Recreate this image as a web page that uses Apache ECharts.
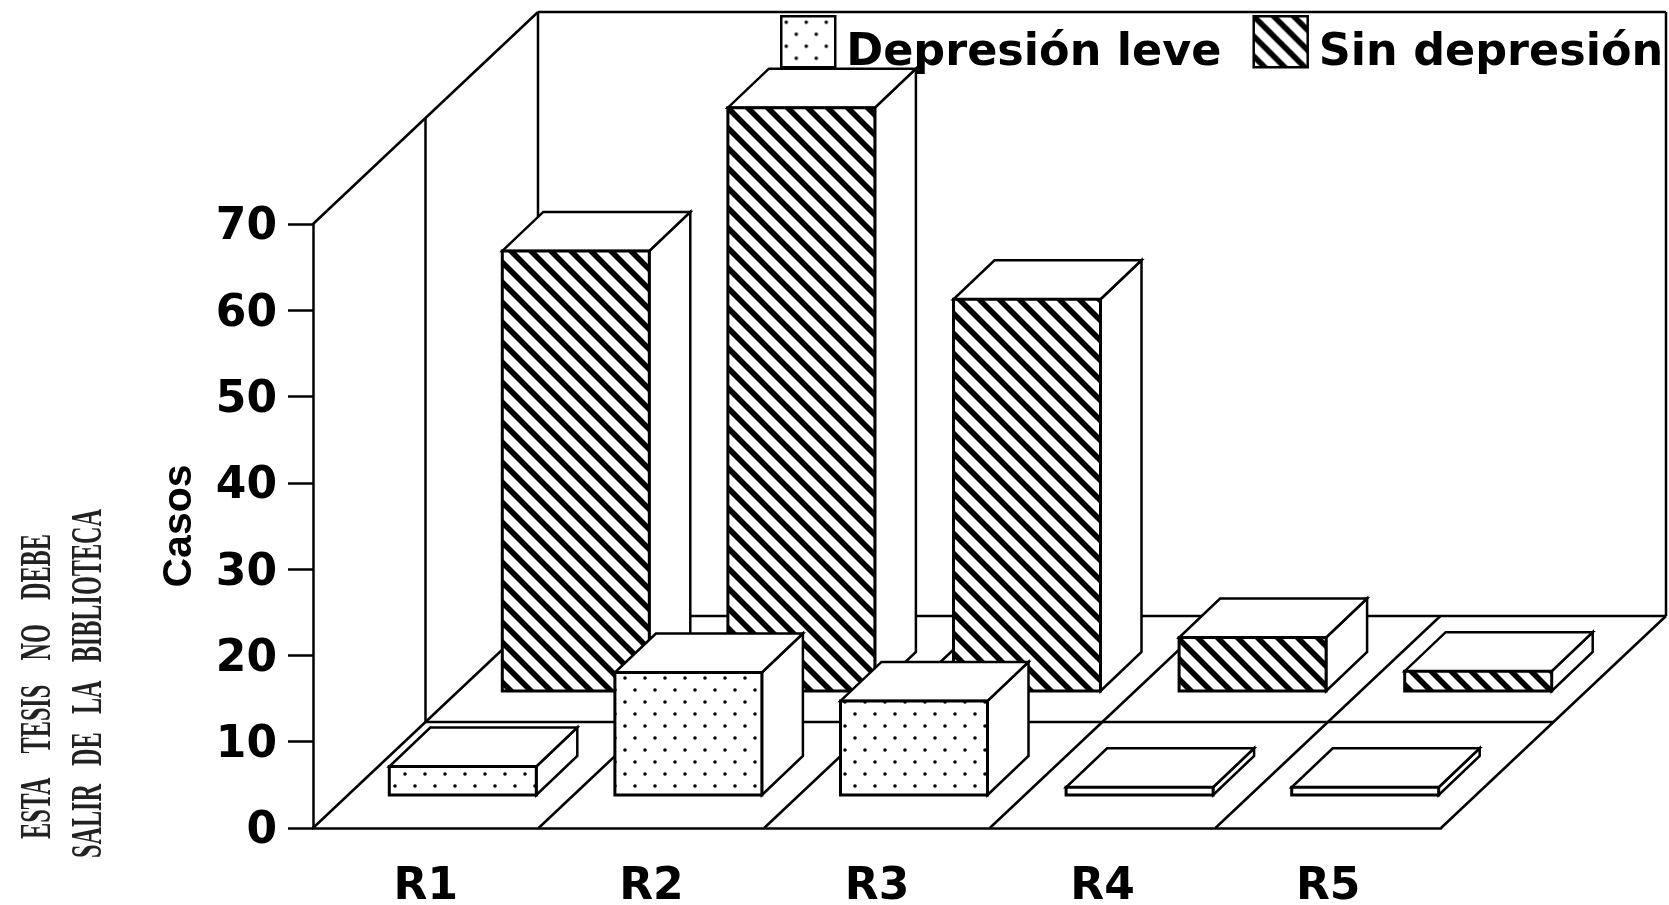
<!DOCTYPE html>
<html>
<head>
<meta charset="utf-8">
<title>Casos por reactivo</title>
<script src="https://cdn.jsdelivr.net/npm/echarts@6/dist/echarts.min.js"></script>
<style>
html, body { margin: 0; padding: 0; background: #fff; }
#bar_chart { width: 1669px; height: 905px; }
</style>
</head>
<body>
<div id="bar_chart"></div>
<script>
const categories = ['R1', 'R2', 'R3', 'R4', 'R5'];
const leveValues = [3.3, 14.2, 10.9, 0.9, 0.9];
const sinValues = [51, 67.6, 45.4, 6.2, 2.3];

// perspective of the fake 3d box, in pixels
const wallDx = 225;
const wallDy = 212;
const barWidth = 147;
const barDepth = [41, 39];
const frontRow = [37, 33];
const backRow = [150, 137];

function stripeTile() {
    const c = document.createElement('canvas');
    c.width = 20;
    c.height = 20;
    const ctx = c.getContext('2d');
    ctx.fillStyle = '#fff';
    ctx.fillRect(0, 0, 20, 20);
    ctx.strokeStyle = '#000';
    ctx.lineWidth = 5.6;
    [-20, 0, 20].forEach(function (o) {
        ctx.beginPath();
        ctx.moveTo(o - 2, -2);
        ctx.lineTo(o + 22, 22);
        ctx.stroke();
    });
    return { image: c, repeat: 'repeat' };
}

function dotTile() {
    const c = document.createElement('canvas');
    c.width = 20;
    c.height = 24;
    const ctx = c.getContext('2d');
    ctx.fillStyle = '#fff';
    ctx.fillRect(0, 0, 20, 24);
    ctx.fillStyle = '#000';
    [[5, 6], [15, 18]].forEach(function (p) {
        ctx.beginPath();
        ctx.arc(p[0], p[1], 1.8, 0, Math.PI * 2);
        ctx.fill();
    });
    return { image: c, repeat: 'repeat' };
}

const stripes = stripeTile();
const dots = dotTile();

function face(points, fill, lineWidth) {
    return {
        type: 'polygon',
        shape: { points: points },
        style: { fill: fill, stroke: '#000', lineWidth: lineWidth, lineJoin: 'miter' }
    };
}

function barRenderer(row, pattern) {
    return function (params, api) {
        const base = api.coord([api.value(0), 0]);
        const top = api.coord([api.value(0), api.value(1)]);
        const l = base[0] + row[0] - barWidth / 2;
        const r = l + barWidth;
        const b = base[1] - row[1];
        const t = top[1] - row[1];
        const dx = barDepth[0];
        const dy = barDepth[1];
        return {
            type: 'group',
            children: [
                face([[r, b], [r + dx, b - dy], [r + dx, t - dy], [r, t]], '#fff', 2.5),
                face([[l, t], [r, t], [r + dx, t - dy], [l + dx, t - dy]], '#fff', 2.5),
                face([[l, b], [r, b], [r, t], [l, t]], pattern, 3)
            ]
        };
    };
}

function frameRenderer(params, api) {
    const o = api.coord([0, 0]);
    const top = api.coord([0, 70])[1];
    const band = api.size([1, 0])[0];
    const x0 = o[0] - band / 2;
    const y0 = o[1];
    const x1 = x0 + band * categories.length;
    const lines = [];
    function line(a, b, c, d) {
        lines.push({
            type: 'line',
            shape: { x1: a, y1: b, x2: c, y2: d },
            style: { stroke: '#000', lineWidth: 2.5 }
        });
    }
    // left wall
    line(x0, top, x0 + wallDx, top - wallDy);
    line(x0 + wallDx / 2, top - wallDy / 2, x0 + wallDx / 2, y0 - wallDy / 2);
    line(x0 + wallDx, top - wallDy, x0 + wallDx, y0 - wallDy);
    // back wall
    line(x0 + wallDx, top - wallDy, x1 + wallDx, top - wallDy);
    line(x1 + wallDx, top - wallDy, x1 + wallDx, y0 - wallDy);
    // floor
    line(x0 + wallDx / 2, y0 - wallDy / 2, x1 + wallDx / 2, y0 - wallDy / 2);
    line(x0 + wallDx, y0 - wallDy, x1 + wallDx, y0 - wallDy);
    for (let i = 0; i <= categories.length; i++) {
        line(x0 + band * i, y0, x0 + band * i + wallDx, y0 - wallDy);
    }
    return { type: 'group', children: lines };
}

const chartDom = document.getElementById('bar_chart');
const myChart = echarts.init(chartDom);

function stamp(text, x, y, length) {
    return {
        type: 'text',
        x: x,
        y: y,
        rotation: Math.PI / 2,
        scaleX: length,
        scaleY: 1,
        style: {
            text: text,
            fontFamily: 'Liberation Serif',
            fontWeight: 'bold',
            fontSize: 44,
            fill: '#222',
            textAlign: 'left',
            textVerticalAlign: 'middle'
        }
    };
}

const option = {
    animation: false,
    backgroundColor: '#fff',
    graphic: {
        elements: [
            stamp('ESTA    TESIS    NO    DEBE', 39, 839, 0.55),
            stamp('SALIR   DE   LA   BIBLIOTECA', 90, 858, 0.55)
        ]
    },
    legend: {
        left: 780,
        top: 15,
        width: 1000,
        padding: 0,
        itemWidth: 54,
        itemHeight: 51,
        itemGap: 31,
        selectedMode: false,
        icon: 'rect',
        formatter: '{t|{name}}',
        textStyle: {
            rich: {
                t: {
                    fontFamily: 'DejaVu Sans',
                    fontWeight: 'bold',
                    fontSize: 44.5,
                    color: '#000',
                    padding: [24, 0, 0, 6]
                }
            }
        },
        data: [
            { name: 'Depresión leve', itemStyle: { color: dots, borderColor: '#000', borderWidth: 2.5 } },
            { name: 'Sin depresión', itemStyle: { color: stripes, borderColor: '#000', borderWidth: 2.5 } }
        ]
    },
    grid: {
        left: 313,
        top: 224,
        width: 1128,
        height: 604,
        outerBoundsMode: 'none'
    },
    xAxis: {
        type: 'category',
        data: categories,
        axisLine: { lineStyle: { color: '#000', width: 2.5 } },
        axisTick: { alignWithLabel: true, length: 14, lineStyle: { color: '#000', width: 2.5 } },
        axisLabel: {
            margin: 38,
            fontFamily: 'DejaVu Sans',
            fontWeight: 'bold',
            fontSize: 44,
            color: '#000'
        }
    },
    yAxis: {
        type: 'value',
        min: 0,
        max: 70,
        interval: 10,
        name: 'Casos',
        nameLocation: 'middle',
        nameGap: 113,
        nameTextStyle: {
            fontFamily: 'Liberation Sans',
            fontWeight: 'bold',
            fontSize: 41,
            color: '#000'
        },
        splitLine: { show: false },
        axisLine: { show: true, lineStyle: { color: '#000', width: 2.5 } },
        axisTick: { show: true, length: 25, lineStyle: { color: '#000', width: 2.5 } },
        axisLabel: {
            margin: 36,
            formatter: '{v|{value}}',
            rich: {
                v: {
                    fontFamily: 'DejaVu Sans',
                    fontWeight: 'bold',
                    fontSize: 44,
                    color: '#000',
                    padding: [8, 0, 0, 0]
                }
            }
        }
    },
    series: [
        {
            name: 'marco',
            type: 'custom',
            silent: true,
            renderItem: frameRenderer,
            data: [[0, 0]]
        },
        {
            name: 'Sin depresión',
            type: 'custom',
            silent: true,
            renderItem: barRenderer(backRow, stripes),
            itemStyle: { color: stripes, borderColor: '#000', borderWidth: 2.5 },
            data: categories.map(function (c, i) { return [i, sinValues[i]]; })
        },
        {
            name: 'Depresión leve',
            type: 'custom',
            silent: true,
            renderItem: barRenderer(frontRow, dots),
            itemStyle: { color: dots, borderColor: '#000', borderWidth: 2.5 },
            data: categories.map(function (c, i) { return [i, leveValues[i]]; })
        }
    ]
};

option && myChart.setOption(option);
</script>
</body>
</html>
